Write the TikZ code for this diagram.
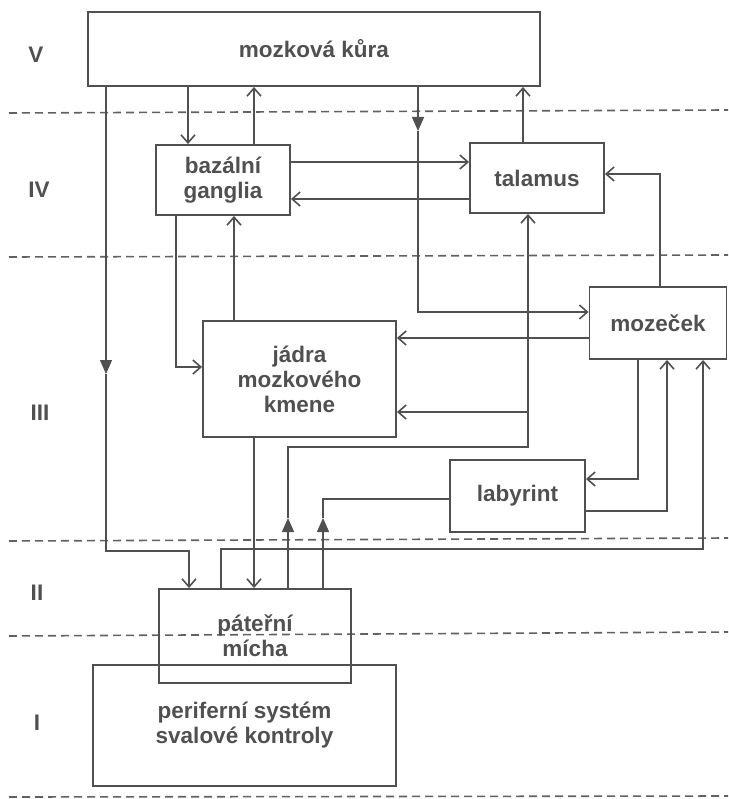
\documentclass[tikz,border=0pt]{standalone}
\usepackage{fontspec}
\setmainfont{Liberation Sans}
\usetikzlibrary{arrows.meta}
\definecolor{ink}{HTML}{505050}
\begin{document}
\begin{tikzpicture}[x=1pt,y=-1pt,
  box/.style={draw=ink,line width=1.9pt,inner sep=0pt,align=center,text=ink,font=\fontsize{22.5}{25}\selectfont\bfseries},
  lbl/.style={text=ink,inner sep=0pt,font=\fontsize{22.5}{25}\selectfont\bfseries},
  conn/.style={draw=ink,line width=1.4pt},
  arr/.style={conn,-{Straight Barb[length=8pt,width=14pt,line width=1.6pt]}},
  tri/.style={conn,-{Triangle[length=14pt,width=12pt]}},
  sep/.style={draw=ink!90,line width=1.6pt,dash pattern=on 8pt off 5pt}]
\useasboundingbox (0,0) rectangle (728,799);

% level separators
\draw[sep] (9,113) -- (728,110);
\draw[sep] (9,257) -- (728,255);
\draw[sep] (9,541) -- (728,538);
\draw[sep] (9,636) -- (728,632);
\draw[sep] (9,797) -- (728,796);

% level labels
\node[lbl] (lV)   at (36,55)  {V};
\node[lbl] (lIV)  at (39,190) {IV};
\node[lbl] (lIII) at (40,413) {III};
\node[lbl] (lII)  at (37,593) {II};
\node[lbl] (lI)   at (37,723) {I};

% boxes
\node[box,minimum width=452pt,minimum height=74pt] (kura) at (314,49) {mozková kůra};
\node[box,minimum width=134pt,minimum height=70pt] (baz) at (223,180) {bazální\\ganglia};
\node[box,minimum width=134pt,minimum height=70pt] (tal) at (537,178) {talamus};
\node[box,minimum width=137pt,minimum height=72pt] (moz) at (658,323) {mozeček};
\node[box,minimum width=193pt,minimum height=116pt] (jadra) at (299.5,379) {jádra\\mozkového\\kmene};
\node[box,minimum width=135pt,minimum height=72pt] (lab) at (517.5,496) {labyrint};
\node[box,minimum width=192pt,minimum height=94pt] (pat) at (255,636) {páteřní\\mícha};
\node[box,minimum width=303pt,minimum height=121pt] (per) at (244.5,725.5) {periferní systém\\svalové kontroly};

% cortex <-> basal ganglia
\draw[arr] (kura.south -| 188,0) -- (baz.north -| 188,0);
\draw[arr] (baz.north -| 254,0) -- (kura.south -| 254,0);
% cortex -> cerebellum
\draw[tri] (kura.south -| 418,0) -- (418,131);
\draw[arr] (418,131) |- (moz.west |- 0,312);
% basal ganglia <-> thalamus
\draw[arr] (baz.east |- 0,162) -- (tal.west |- 0,162);
\draw[arr] (tal.west |- 0,199) -- (baz.east |- 0,199);
% thalamus -> cortex
\draw[arr] (tal.north -| 523,0) -- (kura.south -| 523,0);
% cerebellum -> thalamus
\draw[arr] (moz.north -| 660,0) |- (tal.east |- 0,174);
% basal ganglia -> brainstem
\draw[arr] (baz.south -| 176,0) |- (jadra.west |- 0,367);
% brainstem -> basal ganglia
\draw[arr] (jadra.north -| 234,0) -- (baz.south -| 234,0);
% cerebellum -> brainstem
\draw[arr] (moz.west |- 0,338) -- (jadra.east |- 0,338);
% spinal cord -> thalamus and brainstem
\draw[tri] (pat.north -| 288,0) -- (288,518);
\draw[arr] (288,518) |- (528,447) -- (tal.south -| 528,0);
\draw[arr] (528,412) -- (jadra.east |- 0,412);
% spinal cord -> labyrinth
\draw[tri] (pat.north -| 323,0) -- (323,518);
\draw[conn] (323,518) |- (lab.west |- 0,499);
% cerebellum <-> labyrinth
\draw[arr] (moz.south -| 638,0) |- (lab.east |- 0,479);
\draw[arr] (lab.east |- 0,511) -| (moz.south -| 667,0);
% spinal cord -> cerebellum
\draw[arr] (pat.north -| 221,0) |- (703,549) -- (moz.south -| 703,0);
% cortex -> spinal cord
\draw[tri] (kura.south -| 106,0) -- (106,374);
\draw[arr] (106,374) |- (189,551) -- (pat.north -| 189,0);
% brainstem -> spinal cord
\draw[arr] (jadra.south -| 254,0) -- (pat.north -| 254,0);
\end{tikzpicture}
\end{document}
